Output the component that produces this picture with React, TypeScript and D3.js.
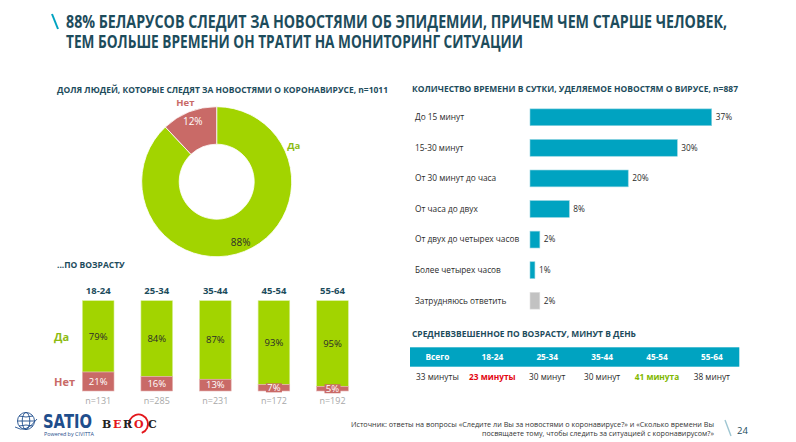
import React from "react";
import * as d3 from "d3";

const titleLines = [
  "88% БЕЛАРУСОВ СЛЕДИТ ЗА НОВОСТЯМИ ОБ ЭПИДЕМИИ, ПРИЧЕМ ЧЕМ СТАРШЕ ЧЕЛОВЕК,",
  "ТЕМ БОЛЬШЕ ВРЕМЕНИ ОН ТРАТИТ НА МОНИТОРИНГ СИТУАЦИИ",
];

const donutTitle = "ДОЛЯ ЛЮДЕЙ, КОТОРЫЕ СЛЕДЯТ ЗА НОВОСТЯМИ О КОРОНАВИРУСЕ, n=1011";
const donutNames = ["Да", "Нет"];
const donutValues = [88, 12];

const ageTitle = "...ПО ВОЗРАСТУ";
const ages = ["18-24", "25-34", "35-44", "45-54", "55-64"];
const ageYes = [79, 84, 87, 93, 95];
const ageNo = [21, 16, 13, 7, 5];
const ageN = ["n=131", "n=285", "n=231", "n=172", "n=192"];

const timeTitle = "КОЛИЧЕСТВО ВРЕМЕНИ В СУТКИ, УДЕЛЯЕМОЕ НОВОСТЯМ О ВИРУСЕ, n=887";
const timeCategories = [
  "До 15 минут",
  "15-30 минут",
  "От 30 минут до часа",
  "От часа до двух",
  "От двух до четырех часов",
  "Более четырех часов",
  "Затрудняюсь ответить",
];
const timeValues = [37, 30, 20, 8, 2, 1, 2];

const tableTitle = "СРЕДНЕВЗВЕШЕННОЕ ПО ВОЗРАСТУ, МИНУТ В ДЕНЬ";
const tableHeaders = ["Всего", "18-24", "25-34", "35-44", "45-54", "55-64"];
const tableValues = ["33 минуты", "23 минуты", "30 минут", "30 минут", "41 минута", "38 минут"];

const sourceLines = [
  "Источник: ответы на вопросы «Следите ли Вы за новостями о коронавирусе?» и «Сколько времени Вы",
  "посвящаете тому, чтобы следить за ситуацией с коронавирусом?»",
];
const pageNumber = "24";

const C = {
  title: "#1d4c5c",
  teal: "#00a3c1",
  green: "#a2d400",
  greenText: "#8dbb12",
  red: "#c96a67",
  gray: "#c2c2c2",
  text: "#2b2b2b",
  nGray: "#a8a8a8",
  satio: "#1f4e8c",
};

const FONT = "'Open Sans', 'DejaVu Sans', sans-serif";

export default function App() {
  // Donut
  const cx = 216.7, cy = 181.7, rOut = 75, rIn = 37.5;
  const pie = d3.pie<number>().sort(null).value((d) => d);
  const arcs = pie(donutValues);
  const arcGen = d3.arc<d3.PieArcDatum<number>>().innerRadius(rIn).outerRadius(rOut);
  const labelArc = d3.arc<d3.PieArcDatum<number>>().innerRadius(65).outerRadius(65);
  const nameArc = d3.arc<any>().innerRadius(85).outerRadius(85);

  // Time bars
  const xT = d3.scaleLinear().domain([0, 37]).range([530, 711.7]);
  const yT = d3
    .scaleBand<string>()
    .domain(timeCategories)
    .range([102, 316])
    .paddingInner(0.45)
    .paddingOuter(0.225);

  // Age stacked bars
  const xA = d3.scaleBand<string>().domain(ages).range([68.9, 361.8]).paddingInner(0.46).paddingOuter(0.23);
  const yA = d3.scaleLinear().domain([0, 100]).range([391, 300.7]);

  // Table
  const xTab = d3.scaleBand<string>().domain(tableHeaders).range([410, 739.3]);

  const valueColor = (i: number) => (i === 1 ? "#e30613" : i === 4 ? "#7fb800" : C.text);
  const valueWeight = (i: number) => (i === 1 || i === 4 ? 700 : 400);

  const berocRing = d3.arc<any>()({
    innerRadius: 8.6,
    outerRadius: 10.4,
    startAngle: (-110 * Math.PI) / 180,
    endAngle: (160 * Math.PI) / 180,
  }) as string;

  return (
    <svg
      width={796}
      height={442}
      style={{ position: "absolute", left: 0, top: 0, background: "#fff" }}
      fontFamily={FONT}
    >
      <rect width={796} height={442} fill="#fff" />
      {/* Title */}
      <line x1={52} y1={14} x2={58} y2={29} stroke={C.teal} strokeWidth={2} />
      <text x={66} y={28} fontSize={17} fontWeight={700} fill={C.title} textLength={661} lengthAdjust="spacingAndGlyphs">
        {titleLines[0]}
      </text>
      <text x={66} y={48} fontSize={17} fontWeight={700} fill={C.title} textLength={457} lengthAdjust="spacingAndGlyphs">
        {titleLines[1]}
      </text>

      {/* Donut */}
      <text x={57} y={93} fontSize={8.5} fontWeight={700} fill={C.title} textLength={331} lengthAdjust="spacingAndGlyphs">
        {donutTitle}
      </text>
      <g transform={`translate(${cx},${cy})`}>
        {arcs.map((a, i) => (
          <path key={i} d={arcGen(a) as string} fill={i === 0 ? C.green : C.red} stroke="#fff" strokeWidth={0.8} />
        ))}
        {arcs.map((a, i) => {
          const [lx, ly] = labelArc.centroid(a);
          return (
            <text
              key={"l" + i}
              x={lx}
              y={ly}
              dy="0.35em"
              textAnchor="middle"
              fontSize={10}
              fill={i === 0 ? "#2b2b2b" : "#fff"}
            >
              {donutValues[i]}%
            </text>
          );
        })}
        {arcs.map((a, i) => {
          const ang = i === 0 ? (65 * Math.PI) / 180 : (a.startAngle + a.endAngle) / 2;
          const [nx, ny] = nameArc.centroid({ startAngle: ang, endAngle: ang });
          return (
            <text
              key={"n" + i}
              x={nx}
              y={ny}
              dy="0.35em"
              textAnchor="middle"
              fontSize={9.5}
              fontWeight={700}
              fill={i === 0 ? C.greenText : C.red}
            >
              {donutNames[i]}
            </text>
          );
        })}
      </g>

      {/* Age bars */}
      <text x={57} y={268} fontSize={8.5} fontWeight={700} fill={C.title}>
        {ageTitle}
      </text>
      <text x={54} y={337.5} dy="0.35em" fontSize={11} fontWeight={700} fill={C.greenText}>
        Да
      </text>
      <text x={54} y={381.7} dy="0.35em" fontSize={11} fontWeight={700} fill={C.red}>
        Нет
      </text>
      {ages.map((ag, i) => {
        const x0 = xA(ag) as number;
        const w = xA.bandwidth();
        const mid = x0 + w / 2;
        const noTop = yA(ageNo[i]);
        const yesTop = yA(ageNo[i] + ageYes[i]);
        const noMid = (noTop + yA(0)) / 2;
        const yesMid = (yesTop + noTop) / 2;
        return (
          <g key={ag}>
            <text x={mid} y={290.7} dy="0.35em" textAnchor="middle" fontSize={9.5} fontWeight={700} fill={C.title}>
              {ag}
            </text>
            <rect x={x0} y={yesTop} width={w} height={noTop - yesTop} fill={C.green} stroke="#d8ee99" strokeWidth={0.6} />
            <rect x={x0} y={noTop} width={w} height={yA(0) - noTop} fill={C.red} stroke="#e4b3b1" strokeWidth={0.6} />
            <text x={mid} y={yesMid} dy="0.35em" textAnchor="middle" fontSize={9.5} fill="#2b2b2b">
              {ageYes[i]}%
            </text>
            <rect x={mid - 8} y={noMid - 4.5} width={16} height={9} fill={C.red} />
            <text x={mid} y={noMid} dy="0.35em" textAnchor="middle" fontSize={9.5} fill="#fff">
              {ageNo[i]}%
            </text>
            <text x={mid} y={400.5} dy="0.35em" textAnchor="middle" fontSize={9} fill={C.nGray}>
              {ageN[i]}
            </text>
          </g>
        );
      })}

      {/* Time bars */}
      <text x={412} y={92} fontSize={8.5} fontWeight={700} fill={C.title} textLength={326} lengthAdjust="spacingAndGlyphs">
        {timeTitle}
      </text>
      {timeCategories.map((c, i) => {
        const y0 = yT(c) as number;
        const h = yT.bandwidth();
        const last = i === timeCategories.length - 1;
        return (
          <g key={c}>
            <text x={415} y={y0 + h / 2} dy="0.35em" fontSize={8.3} fill={C.text}>
              {c}
            </text>
            <rect
              x={xT(0)}
              y={y0}
              width={xT(timeValues[i]) - xT(0)}
              height={h}
              fill={last ? C.gray : C.teal}
              stroke={last ? "#e0e0e0" : "#8fd3e0"}
              strokeWidth={0.6}
            />
            <text x={xT(timeValues[i]) + 4} y={y0 + h / 2} dy="0.35em" fontSize={8.3} fill={C.text}>
              {timeValues[i]}%
            </text>
          </g>
        );
      })}

      {/* Table */}
      <text x={412} y={337} fontSize={8.5} fontWeight={700} fill={C.title} textLength={224} lengthAdjust="spacingAndGlyphs">
        {tableTitle}
      </text>
      <rect x={xTab.range()[0]} y={347.3} width={xTab.range()[1] - xTab.range()[0]} height={19.4} fill={C.teal} />
      {tableHeaders.map((h, i) => {
        const mid = (xTab(h) as number) + xTab.bandwidth() / 2;
        return (
          <g key={h}>
            <text x={mid} y={357.2} dy="0.35em" textAnchor="middle" fontSize={8.3} fontWeight={700} fill="#fff">
              {h}
            </text>
            <text
              x={mid}
              y={377}
              dy="0.35em"
              textAnchor="middle"
              fontSize={8.3}
              fontWeight={valueWeight(i)}
              fill={valueColor(i)}
            >
              {tableValues[i]}
            </text>
          </g>
        );
      })}

      {/* Footer */}
      <text x={714} y={427} textAnchor="end" fontSize={7} fill="#333" textLength={363} lengthAdjust="spacingAndGlyphs">
        {sourceLines[0]}
      </text>
      <text x={714} y={436} textAnchor="end" fontSize={7} fill="#333" textLength={232} lengthAdjust="spacingAndGlyphs">
        {sourceLines[1]}
      </text>
      <line x1={725} y1={420} x2={731} y2={436} stroke="#9fc6d2" strokeWidth={1.4} />
      <text x={737} y={434} fontSize={9.5} fill={C.title}>
        {pageNumber}
      </text>

      {/* Logos */}
      <g stroke={C.satio} fill="none" strokeWidth={0.9}>
        <circle cx={26} cy={421} r={8.5} />
        <ellipse cx={26} cy={421} rx={3.8} ry={8.5} />
        <line x1={17.5} y1={421} x2={34.5} y2={421} />
        <path d="M19 416 Q26 418 33 416 M19 426 Q26 424 33 426" />
        <path d="M15 427 Q26 434 37 419" />
      </g>
      <text x={43} y={428} fontSize={19} fontWeight={700} fill={C.satio} fontFamily="'DejaVu Sans', sans-serif" textLength={49} lengthAdjust="spacingAndGlyphs">
        SATIO
      </text>
      <text x={44} y={436} fontSize={4.6} fill={C.satio} textLength={50} lengthAdjust="spacingAndGlyphs">
        Powered by CIVITTA
      </text>
      <path d={berocRing} transform="translate(138.5,424)" fill="#e3161b" />
      <g fontSize={11} fontWeight={700} fontFamily="'DejaVu Serif', 'Liberation Serif', serif">
        <text x={102} y={428} fill="#222">B</text>
        <text x={113} y={428} fill="#e3161b">E</text>
        <text x={123} y={428} fill="#222">R</text>
        <text x={134} y={428} fill="#e3161b">O</text>
        <text x={148} y={428} fill="#222">C</text>
      </g>
    </svg>
  );
}
